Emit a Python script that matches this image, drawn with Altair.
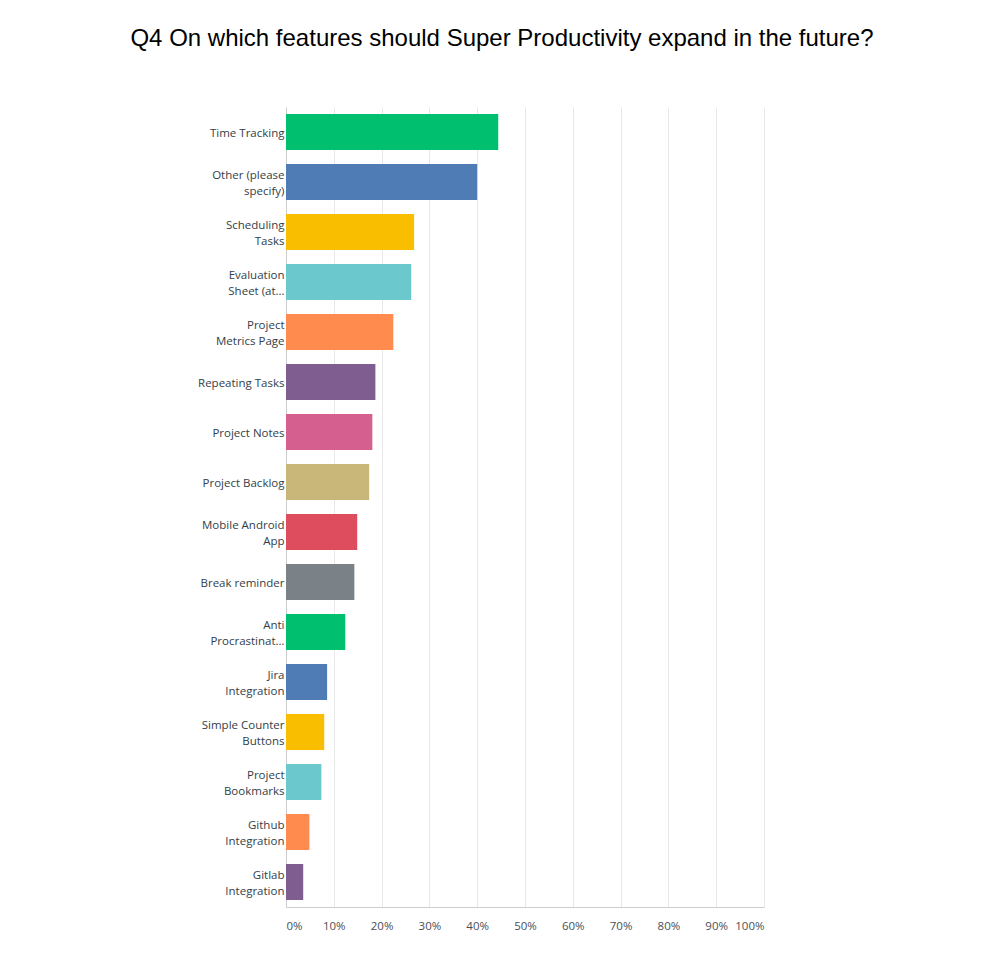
import altair as alt
import pandas as pd

categories = [
    "Time Tracking",
    "Other (please|specify)",
    "Scheduling|Tasks",
    "Evaluation|Sheet (at…",
    "Project|Metrics Page",
    "Repeating Tasks",
    "Project Notes",
    "Project Backlog",
    "Mobile Android|App",
    "Break reminder",
    "Anti|Procrastinat…",
    "Jira|Integration",
    "Simple Counter|Buttons",
    "Project|Bookmarks",
    "Github|Integration",
    "Gitlab|Integration",
]
values = [44.4, 40.0, 26.8, 26.2, 22.45, 18.7, 18.06, 17.4, 14.9, 14.3, 12.4, 8.6, 8.0, 7.4, 4.9, 3.6]
colors = ["#00BF6F", "#507CB6", "#F9BE00", "#6BC8CD", "#FF8B4F", "#7F5D90", "#D5608F",
          "#C9B77A", "#DE4D5E", "#7A8187", "#00BF6F", "#507CB6", "#F9BE00", "#6BC8CD",
          "#FF8B4F", "#7F5D90"]
x_ticks = [0, 10, 20, 30, 40, 50, 60, 70, 80, 90, 100]

df = pd.DataFrame({"feature": categories, "pct": values})

chart = alt.Chart(df).mark_bar().encode(
    y=alt.Y("feature:N", sort=categories,
            scale=alt.Scale(paddingInner=0.28, paddingOuter=0.14),
            axis=alt.Axis(title=None, labelExpr="split(datum.label, '|')",
                          labelOffset=alt.ExprRef("indexof(datum.label, '|') >= 0 ? -6 : 2"),
                          labelLineHeight=16, labelFontSize=11.5, labelFont="Open Sans",
                          labelColor="#333e48", labelPadding=2, ticks=False,
                          domainColor="#cccccc", labelLimit=200)),
    x=alt.X("pct:Q", scale=alt.Scale(domain=[0, 100], nice=False),
            axis=alt.Axis(title=None, values=x_ticks, labelExpr="datum.value + '%'",
                          labelFlush=True, ticks=False, labelPadding=13,
                          labelFontSize=11.5, labelFont="Open Sans", labelColor="#4a4f55",
                          grid=True, gridColor="#e8e8e8", domainColor="#cccccc")),
    color=alt.Color("feature:N", sort=categories,
                    scale=alt.Scale(domain=categories, range=colors), legend=None),
).properties(
    width=478,
    height=800,
    title=alt.TitleParams(
        "Q4 On which features should Super Productivity expand in the future?",
        font="Liberation Sans", fontSize=24, fontWeight="normal", color="#000000",
        anchor="middle", frame="group", baseline="alphabetic", offset=37, dx=-23,
    ),
    autosize=alt.AutoSizeParams(type="none"),
    padding={"left": 278, "top": 99, "right": 220, "bottom": 40},
).configure_view(stroke=None)

chart.save("out.html", embed_options={"renderer": "svg", "actions": False})
